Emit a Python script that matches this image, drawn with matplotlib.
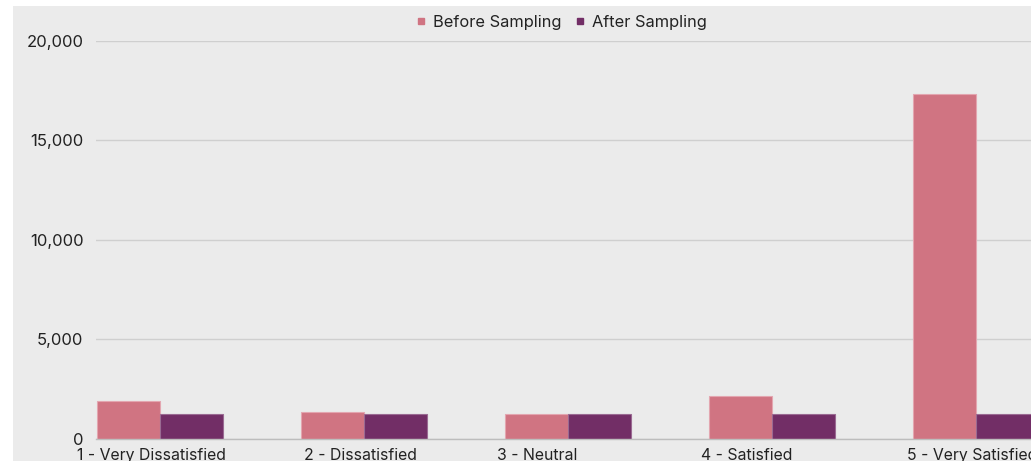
import numpy as np
import matplotlib.pyplot as plt
from matplotlib.lines import Line2D
from matplotlib.patches import Rectangle
from matplotlib.ticker import FuncFormatter

plt.rcParams['font.family'] = ['Inter', 'DejaVu Sans']

categories = ["1 - Very Dissatisfied", "2 - Dissatisfied", "3 - Neutral",
              "4 - Satisfied", "5 - Very Satisfied"]
before_sampling = [1910, 1330, 1245, 2150, 17320]
after_sampling = [1245, 1245, 1245, 1245, 1245]

before_color = "#D07482"
after_color = "#722E66"
bg_color = "#EBEBEB"

fig = plt.figure(figsize=(10.31, 4.61), dpi=100)
fig.patch.set_facecolor("white")
# grey panel behind the whole chart, leaving a thin white strip on top/left
fig.patches.append(Rectangle((13 / 1031, 0), 1 - 13 / 1031, (461 - 6) / 461,
                             transform=fig.transFigure, facecolor=bg_color,
                             edgecolor="none", zorder=-10))

ax = fig.add_axes([96 / 1031, 22.5 / 461, 1 - 96 / 1031, (438.5 - 41) / 461])
ax.set_facecolor(bg_color)
ax.patch.set_alpha(0)

x = np.arange(len(categories))
w = 0.311
ax.bar(x - w / 2, before_sampling, w, color=before_color,
       edgecolor="#E3A6B0", linewidth=0.8, zorder=3)
ax.bar(x + w / 2, after_sampling, w, color=after_color,
       edgecolor="#9A6A92", linewidth=0.8, zorder=3)

ax.set_ylim(0, 20000)
ax.set_yticks([0, 5000, 10000, 15000, 20000])
ax.yaxis.set_major_formatter(FuncFormatter(lambda v, p: f"{int(v):,}"))
ax.set_xlim(-0.3137, (1031 - 160) / 204)
# category labels sit slightly left of their bar groups
label_shift = np.array([-0.044, -0.015, -0.152, -0.123, -0.02])
ax.set_xticks(x + label_shift)
ax.set_xticklabels(categories)

ax.grid(axis="y", color="#CFCFCF", linewidth=1, zorder=0)
ax.set_axisbelow(True)
for side in ["top", "right", "left"]:
    ax.spines[side].set_visible(False)
ax.spines["bottom"].set_color("#BDBDBD")
ax.spines["bottom"].set_linewidth(1)
ax.spines["bottom"].set_zorder(4)
ax.tick_params(axis="y", length=0, pad=9, labelsize=12, labelcolor="#222222")
ax.tick_params(axis="x", length=0, pad=7, labelsize=11.4, labelcolor="#222222")

handles = [
    Line2D([], [], marker="s", linestyle="none", markersize=4.5,
           markerfacecolor=before_color, markeredgecolor=before_color),
    Line2D([], [], marker="s", linestyle="none", markersize=4.5,
           markerfacecolor=after_color, markeredgecolor=after_color),
]
fig.legend(handles, ["Before Sampling", "After Sampling"], loc="center",
           bbox_to_anchor=(562 / 1031, 1 - 22 / 461), ncol=2, frameon=False,
           fontsize=11.8, handlelength=0.5, handletextpad=0.45, columnspacing=0.9,
           labelcolor="#222222")

fig.savefig("out.png", dpi=100)
